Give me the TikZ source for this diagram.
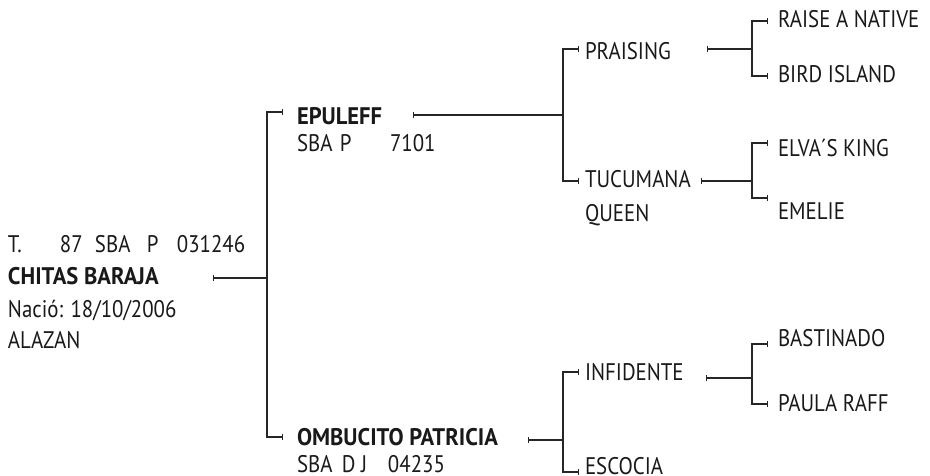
\documentclass[tikz,border=0pt]{standalone}
\usepackage{fontspec}
\setmainfont{PT Sans}[FakeStretch=0.87,BoldFeatures={FakeStretch=0.94}]
\usetikzlibrary{arrows.meta}
\tikzset{tk/.tip={Bar[width=6pt,line width=1.4pt]}}
\begin{document}
\begin{tikzpicture}[x=1pt,y=-1pt,
  lbl/.style={anchor=base west,inner sep=0pt,outer sep=0pt,font=\fontsize{24}{28}\selectfont,text=black!90},
  bname/.style={lbl,font=\fontsize{24}{28}\selectfont\bfseries},
  conn/.style={line width=1.4pt,black!85}]
\useasboundingbox (0,0) rectangle (930,476);
% texts
\node[lbl]   (rid)   at (8,252) {\makebox[52pt][l]{T.}\makebox[35pt][l]{87}\makebox[52pt][l]{SBA}\makebox[30pt][l]{P}031246};
\node[bname] (root)  at (8,284) {CHITAS BARAJA};
\node[lbl]   (rnac)  at (8,317) {Nació: 18/10/2006};
\node[lbl]   (rcol)  at (8,348) {ALAZAN};
\node[bname] (sire)  at (297,125) {EPULEFF};
\node[lbl]   (sreg)  at (297,152) {\makebox[43pt][l]{SBA}\makebox[50pt][l]{P}7101};
\node[bname] (dam)   at (297,445) {OMBUCITO PATRICIA};
\node[lbl]   (dreg)  at (297,472) {\makebox[45pt][l]{SBA}\makebox[46pt][l]{D J}04235};
\node[lbl]   (ss)    at (585,60) {PRAISING};
\node[lbl]   (sd)    at (585,188) {TUCUMANA};
\node[lbl]   (sd2)   at (585,222) {QUEEN};
\node[lbl]   (ds)    at (585,380) {INFIDENTE};
\node[lbl]   (dd)    at (585,474) {ESCOCIA};
\node[lbl]   (sss)   at (778,28) {RAISE A NATIVE};
\node[lbl]   (ssd)   at (778,83) {BIRD ISLAND};
\node[lbl]   (sds)   at (778,157) {ELVA´S KING};
\node[lbl]   (sdd)   at (778,220) {EMELIE};
\node[lbl]   (dss)   at (778,346) {BASTINADO};
\node[lbl]   (dsd)   at (778,411) {PAULA RAFF};
% connector points
\coordinate (r0) at (213,278); \coordinate (j0) at (267,278);
\coordinate (t1) at (283,112); \coordinate (t2) at (283,437);
\coordinate (e0) at (413,115); \coordinate (j1) at (563,115);
\coordinate (p1) at (579,49);  \coordinate (p2) at (579,181);
\coordinate (o0) at (528,440); \coordinate (j2) at (563,440);
\coordinate (p3) at (579,372); \coordinate (p4) at (579,472);
\coordinate (q0) at (707,49);  \coordinate (k1) at (752,49);
\coordinate (s1) at (768,21);  \coordinate (s2) at (768,76);
\coordinate (q1) at (701,181); \coordinate (k2) at (752,181);
\coordinate (s3) at (768,143); \coordinate (s4) at (768,198);
\coordinate (q2) at (706,378); \coordinate (k3) at (752,378);
\coordinate (s5) at (768,344); \coordinate (s6) at (768,404);
% connectors
\draw[conn,{tk}-] (r0) -- (j0);
\draw[conn,{tk}-{tk}] (t1) -| (j0) |- (t2);
\draw[conn,{tk}-] (e0) -- (j1);
\draw[conn,{tk}-{tk}] (p1) -| (j1) |- (p2);
\draw[conn,{tk}-] (o0) -- (j2);
\draw[conn,{tk}-{tk}] (p3) -| (j2) |- (p4);
\draw[conn,{tk}-] (q0) -- (k1);
\draw[conn,{tk}-{tk}] (s1) -| (k1) |- (s2);
\draw[conn,{tk}-] (q1) -- (k2);
\draw[conn,{tk}-{tk}] (s3) -| (k2) |- (s4);
\draw[conn,{tk}-] (q2) -- (k3);
\draw[conn,{tk}-{tk}] (s5) -| (k3) |- (s6);
\end{tikzpicture}
\end{document}
